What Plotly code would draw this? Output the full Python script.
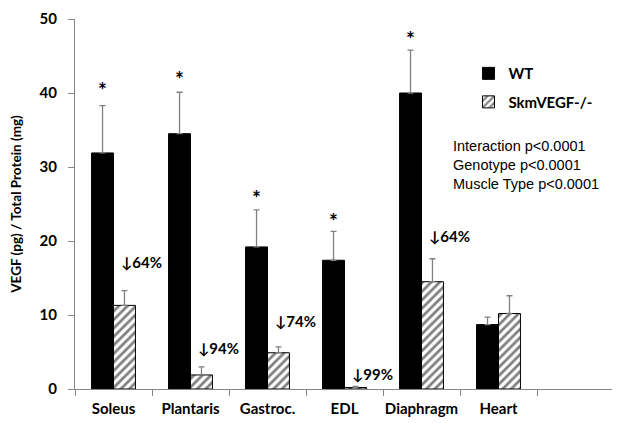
import plotly.graph_objects as go

categories = ["Soleus", "Plantaris", "Gastroc.", "EDL", "Diaphragm", "Heart"]
wt_values = [31.9, 34.5, 19.2, 17.4, 40.0, 8.7]
wt_err = [6.4, 5.6, 5.0, 3.9, 5.8, 1.0]
ko_values = [11.3, 1.9, 4.9, 0.2, 14.5, 10.2]
ko_err = [2.0, 1.1, 0.8, 0.15, 3.1, 2.4]
star_y = [40.5, 41.9, 25.9, 22.8, 47.3]
pct_labels = ["↓64%", "↓94%", "↓74%", "↓99%", "↓64%"]
pct_y = [17.2, 5.6, 9.2, 2.0, 20.7]
stats_text = ["Interaction p<0.0001", "Genotype p<0.0001", "Muscle Type p<0.0001"]

xpos = list(range(len(categories)))
FONT = "Lato, 'Liberation Sans', Arial, sans-serif"

fig = go.Figure()
fig.add_trace(go.Bar(
    x=xpos, y=wt_values, name="<b>WT</b>", legendgroup="a",
    marker=dict(color="black", line=dict(color="black", width=1)),
    error_y=dict(type="data", array=wt_err, arrayminus=[0]*6, symmetric=False,
                 color="#808080", thickness=1.3, width=3),
))
fig.add_trace(go.Bar(
    x=xpos, y=ko_values, name="<b>SkmVEGF-/-</b>", legendgroup="b",
    marker=dict(color="white", line=dict(color="black", width=1),
                pattern=dict(shape="/", fgcolor="black", bgcolor="white", size=6, solidity=0.45)),
    error_y=dict(type="data", array=ko_err, arrayminus=[0]*6, symmetric=False,
                 color="#808080", thickness=1.3, width=3),
))

# invisible trace for category-boundary ticks
fig.add_trace(go.Scatter(x=[-0.5, 6.5], y=[0, 0], xaxis="x2", mode="markers",
                         marker=dict(opacity=0), showlegend=False, hoverinfo="skip"))

annotations = []
bw = 0.286
for i, sy in enumerate(star_y):
    annotations.append(dict(x=i - bw / 2, y=sy, text="<b>*</b>", showarrow=False,
                            xref="x", yref="y", font=dict(size=21, family=FONT, color="black")))
for i, (lab, py) in enumerate(zip(pct_labels, pct_y)):
    annotations.append(dict(x=i + bw / 2 - 0.07, y=py, text="<b>" + lab + "</b>", showarrow=False,
                            xref="x", yref="y", xanchor="left",
                            font=dict(size=15, family=FONT, color="black")))
annotations.append(dict(x=0.698, y=0.685, xref="paper", yref="paper", xanchor="left", yanchor="top",
                        text="<br>".join(stats_text), align="left", showarrow=False,
                        font=dict(size=14.5, family="'Liberation Sans', Arial, sans-serif", color="black")))

# the page body has an 8px default margin, so the figure is sized to fit the window
fig.update_layout(
    width=612, height=415,
    margin=dict(l=67, r=6, t=11, b=34),
    plot_bgcolor="white", paper_bgcolor="white",
    barmode="group", bargap=0.43, bargroupgap=0,
    showlegend=True,
    legend=dict(x=0.73, y=0.897, xanchor="left", yanchor="top",
                font=dict(size=15, family=FONT, color="black"),
                bgcolor="rgba(0,0,0,0)", traceorder="grouped", tracegroupgap=6,
                itemwidth=30),
    annotations=annotations,
    xaxis=dict(range=[-0.5, 6.5], tickvals=xpos, ticktext=["<b>%s</b>" % c for c in categories],
               ticks="", showline=True, linecolor="#868686", linewidth=1,
               showgrid=False, zeroline=False, automargin=False, ticklabelstandoff=6,
               tickfont=dict(size=15, family=FONT, color="black")),
    xaxis2=dict(range=[-0.5, 6.5], overlaying="x", side="bottom", anchor="y",
                tickvals=[-0.5 + k for k in range(8)], ticktext=[""] * 8,
                ticks="outside", ticklen=6, tickcolor="#868686", showline=False,
                showgrid=False, zeroline=False, automargin=False),
    yaxis=dict(range=[0, 50], tickvals=[0, 10, 20, 30, 40, 50],
               ticktext=["<b>%d</b>" % v for v in [0, 10, 20, 30, 40, 50]],
               ticks="outside", ticklen=6, tickcolor="#868686",
               showline=True, linecolor="#868686", linewidth=1,
               showgrid=False, zeroline=False, automargin=False, ticklabelstandoff=8,
               tickfont=dict(size=15, family=FONT, color="black"),
               title=dict(text="<b>VEGF (pg) / Total Protein (mg)</b>", standoff=16,
                          font=dict(size=13.5, family=FONT, color="black"))),
)

fig.write_html("out.html")
